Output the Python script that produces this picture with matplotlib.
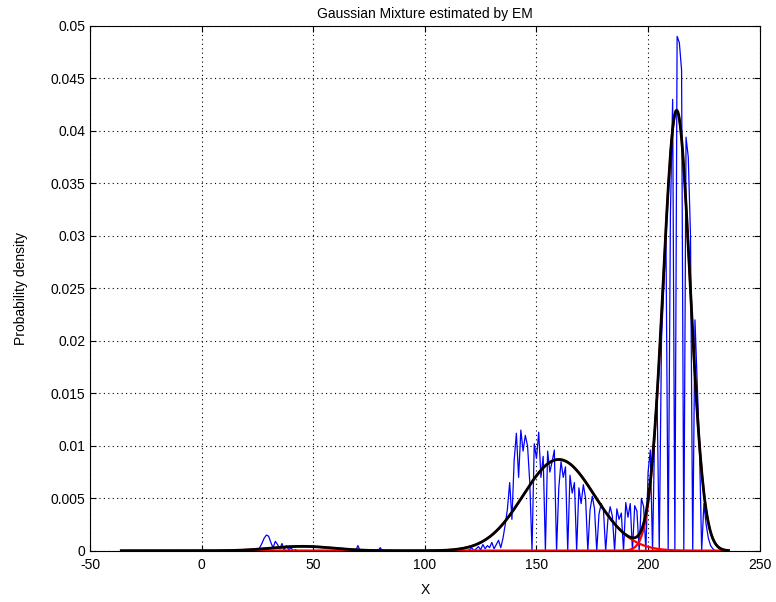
import numpy as np
import matplotlib
matplotlib.use("Agg")
import matplotlib.pyplot as plt

plt.rcParams['font.family'] = ['Liberation Sans', 'DejaVu Sans']
plt.rcParams['axes.unicode_minus'] = False

# histogram of the data (density per unit bin), x = 20 .. 230
hist_start = 20
hist_vals = [
    0, 0, 0, 0, 0, 0, 0.3, 0.7, 1.2, 1.5,            # 20-29
    1.4, 0.8, 0.3, 0.9, 0.6, 0.2, 0.7, 0.1, 0.5, 0.1,  # 30-39
    0.3, 0, 0.1, 0, 0, 0, 0, 0, 0, 0,                  # 40-49
    0, 0, 0, 0, 0, 0, 0, 0, 0, 0,                      # 50-59
    0, 0, 0, 0, 0, 0, 0, 0, 0, 0,                      # 60-69
    0.5, 0, 0, 0, 0, 0, 0, 0, 0, 0,                    # 70-79
    0.3, 0, 0, 0, 0, 0, 0, 0, 0, 0,                    # 80-89
    0, 0, 0, 0, 0, 0, 0, 0, 0, 0,                      # 90-99
    0, 0, 0, 0, 0, 0, 0, 0, 0, 0,                      # 100-109
    0, 0, 0, 0, 0, 0, 0, 0, 0, 0,                      # 110-119
    0.1, 0.3, 0, 0.2, 0.4, 0.1, 0.6, 0.2, 0.5, 0.3,    # 120-129
    0.8, 0.2, 0.6, 1.0, 0.3, 1.2, 2.5, 4.0, 6.5, 3.0,  # 130-139
    8.6, 11.2, 7.0, 11.5, 9.5, 11.0, 10.0, 6.5, 0, 10.2,  # 140-149
    8.8, 11.3, 7.0, 9.0, 0, 9.5, 7.5, 8.5, 9.6, 0,     # 150-159
    6.0, 8.5, 7.0, 8.0, 0, 7.2, 5.5, 6.5, 0, 6.0,      # 160-169
    4.5, 6.3, 5.0, 0, 3.9, 5.2, 4.0, 0, 3.5, 4.5,      # 170-179
    3.9, 0, 3.0, 4.2, 3.3, 0, 4.0, 3.0, 3.6, 0,        # 180-189
    4.6, 3.2, 4.5, 0, 4.3, 3.8, 0, 5.0, 4.2, 0,        # 190-199
    7.5, 9.6, 0, 12, 15, 0, 20, 25, 30, 0,             # 200-209
    32, 43, 0, 49, 48.4, 45.8, 0, 39.4, 37.5, 30,      # 210-219
    0, 22, 16, 10, 0, 4.5, 2.5, 1.2, 0.5, 0.2,         # 220-229
    0,                                                 # 230
]

# EM estimated mixture parameters
means = [45, 160, 212.8]
sigmas = [14, 16, 6.05]
weights = [0.015, 0.349, 0.636]

hist_x = np.arange(hist_start, hist_start + len(hist_vals))
hist_y = np.array(hist_vals) * 1e-3

xs = np.linspace(-36, 236, 600)
comps = [w / (s * np.sqrt(2 * np.pi)) * np.exp(-(xs - m) ** 2 / (2 * s ** 2))
         for m, s, w in zip(means, sigmas, weights)]
mix = np.sum(comps, axis=0)

fig = plt.figure(figsize=(7.76, 6.02), dpi=100)
ax = fig.add_axes([0.116, 0.085, 0.863, 0.872])

ax.plot(hist_x, hist_y, color='blue', linewidth=0.9)
for c in comps:
    ax.plot(xs, c, color='red', linewidth=1.6)
ax.plot(xs, mix, color='black', linewidth=2.0)

ax.set_xlim(-50, 250)
ax.set_ylim(0, 0.05)
ax.set_xticks(np.arange(-50, 251, 50))
ax.set_yticks(np.arange(0, 0.0501, 0.005))
ax.set_yticklabels(['0', '0.005', '0.01', '0.015', '0.02', '0.025',
                    '0.03', '0.035', '0.04', '0.045', '0.05'])
ax.tick_params(direction='in', top=True, right=True, labelsize=10, length=4)
ax.tick_params(axis='x', pad=5)
ax.grid(True, color='black', linestyle=(0, (1, 3)), linewidth=0.8)

ax.set_title('Gaussian Mixture estimated by EM', fontsize=10)
ax.set_xlabel('X', fontsize=10, labelpad=8)
ax.set_ylabel('Probability density', fontsize=10, labelpad=16)

fig.savefig('out.png', dpi=100)
